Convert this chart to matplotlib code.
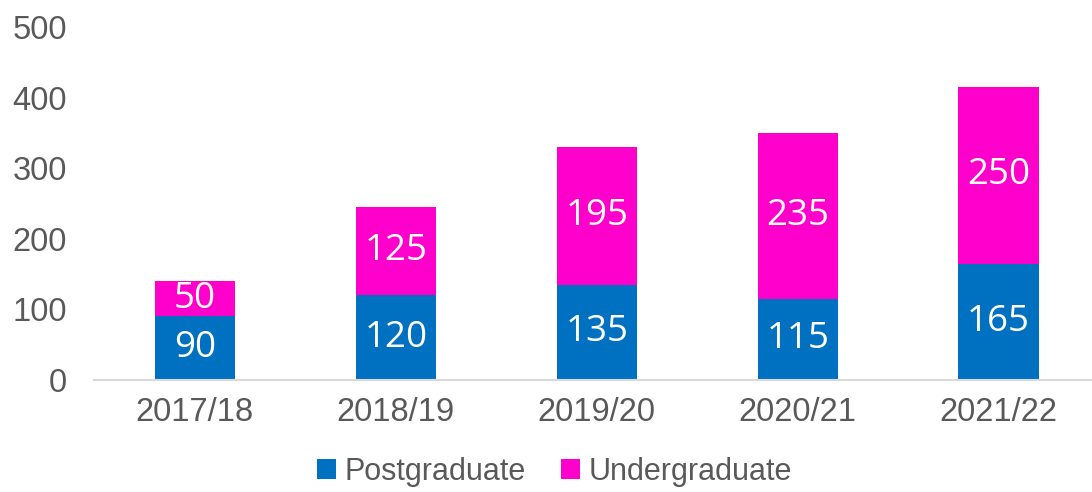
import matplotlib
matplotlib.use('Agg')
import matplotlib.pyplot as plt
import numpy as np

# Data
years = ['2017/18', '2018/19', '2019/20', '2020/21', '2021/22']
postgraduate = [90, 120, 135, 115, 165]
undergraduate = [50, 125, 195, 235, 250]

blue = '#0070C0'
pink = '#FF00CC'
grey_text = '#595959'

fig = plt.figure(figsize=(10.92, 4.92), dpi=100)
ax = fig.add_axes([0.0865, 0.2276, 0.920, 0.7175])

x = np.arange(len(years))
b1 = ax.bar(x, postgraduate, width=0.4, color=blue, label='Postgraduate')
b2 = ax.bar(x, undergraduate, width=0.4, bottom=postgraduate, color=pink, label='Undergraduate')

# white value labels in the middle of each segment
for bars in (b1, b2):
    ax.bar_label(bars, label_type='center', color='white', fontsize=26.5,
                 family=['Open Sans', 'DejaVu Sans'])

ax.set_xlim(-0.5, len(years) - 0.5)
ax.set_ylim(0, 500)
ax.set_yticks(range(0, 501, 100))
ax.set_xticks(x)
ax.set_xticklabels(years)
ax.tick_params(axis='both', length=0, labelsize=23.5, labelcolor=grey_text,
               labelfontfamily='Liberation Sans')
ax.tick_params(axis='x', pad=12)
ax.tick_params(axis='y', pad=20)

for s in ['top', 'right', 'left']:
    ax.spines[s].set_visible(False)
ax.spines['bottom'].set_color('#D9D9D9')
ax.spines['bottom'].set_linewidth(1.5)

leg = fig.legend(loc='lower center', bbox_to_anchor=(0.508, -0.045), ncol=2, frameon=False,
                 prop={'family': 'Liberation Sans', 'size': 22},
                 handlelength=0.6, handleheight=0.6, handletextpad=0.3, columnspacing=1.15)
for t in leg.get_texts():
    t.set_color(grey_text)

plt.savefig('out.png', dpi=100)
plt.close()
